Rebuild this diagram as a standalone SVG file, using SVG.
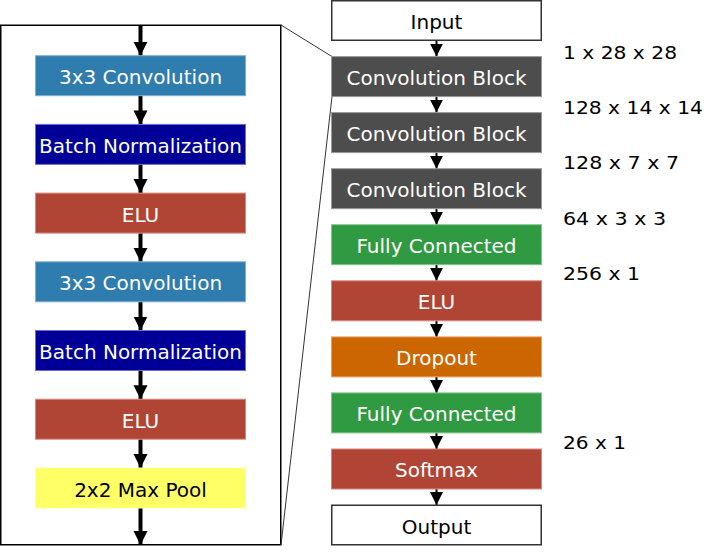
<svg xmlns="http://www.w3.org/2000/svg" width="718" height="555" viewBox="0 0 718 555">
<style>
text{font-family:"DejaVu Sans",Verdana,sans-serif;font-size:20px;text-anchor:middle;fill:#fff}
.dark{fill:#000}
.lbl{font-size:18px;text-anchor:start;fill:#000}
.conv{fill:#2f7cae;stroke:#7fb0d4;stroke-width:1}
.bn{fill:#000099;stroke:#6e6ecc;stroke-width:1}
.elu{fill:#b04535;stroke:#d88a80;stroke-width:1}
.pool{fill:#ffff66;stroke:#ffff99;stroke-width:1}
.cb{fill:#4d4d4d;stroke:#9a9a9a;stroke-width:1}
.fc{fill:#309a43;stroke:#85c590;stroke-width:1}
.drop{fill:#cc6600;stroke:#e6a266;stroke-width:1}
.io{fill:#fff;stroke:#333;stroke-width:1.5}
.sh{stroke:#000;stroke-width:4}
.shr{stroke:#000;stroke-width:2}
</style>
<defs>
<marker id="ahL" viewBox="0 0 14 15" refX="14" refY="7" markerWidth="14" markerHeight="15" markerUnits="userSpaceOnUse" orient="auto"><path d="M0,0 L14,7 L0,14 z" fill="#000"/></marker>
<marker id="ahR" viewBox="0 0 13 13" refX="13" refY="6.5" markerWidth="13" markerHeight="13" markerUnits="userSpaceOnUse" orient="auto"><path d="M0,0 L13,6.5 L0,13 z" fill="#000"/></marker>
</defs>
<rect id="panel" x="0.75" y="25.25" width="280" height="519.5" fill="#fff" stroke="#000" stroke-width="1.5"/>
<g id="connectors" fill="none">
<line x1="281" y1="25" x2="332" y2="56.6" stroke="#333" stroke-width="1"/>
<line x1="332" y1="96.6" x2="281" y2="545" stroke="#333" stroke-width="1"/>
<line class="sh" x1="140.5" y1="25" x2="140.5" y2="55.7" marker-end="url(#ahL)"/>
<line class="sh" x1="140.5" y1="95.7" x2="140.5" y2="124.4" marker-end="url(#ahL)"/>
<line class="sh" x1="140.5" y1="164.4" x2="140.5" y2="193.1" marker-end="url(#ahL)"/>
<line class="sh" x1="140.5" y1="233.1" x2="140.5" y2="261.8" marker-end="url(#ahL)"/>
<line class="sh" x1="140.5" y1="301.8" x2="140.5" y2="330.5" marker-end="url(#ahL)"/>
<line class="sh" x1="140.5" y1="370.5" x2="140.5" y2="399.2" marker-end="url(#ahL)"/>
<line class="sh" x1="140.5" y1="439.2" x2="140.5" y2="468" marker-end="url(#ahL)"/>
<line class="sh" x1="140.5" y1="508" x2="140.5" y2="545" marker-end="url(#ahL)"/>
<line class="shr" x1="436.5" y1="40.5" x2="436.5" y2="56.6" marker-end="url(#ahR)"/>
<line class="shr" x1="436.5" y1="96.6" x2="436.5" y2="112.6" marker-end="url(#ahR)"/>
<line class="shr" x1="436.5" y1="152.6" x2="436.5" y2="168.7" marker-end="url(#ahR)"/>
<line class="shr" x1="436.5" y1="208.7" x2="436.5" y2="224.7" marker-end="url(#ahR)"/>
<line class="shr" x1="436.5" y1="264.7" x2="436.5" y2="280.8" marker-end="url(#ahR)"/>
<line class="shr" x1="436.5" y1="320.8" x2="436.5" y2="336.9" marker-end="url(#ahR)"/>
<line class="shr" x1="436.5" y1="376.9" x2="436.5" y2="392.9" marker-end="url(#ahR)"/>
<line class="shr" x1="436.5" y1="432.9" x2="436.5" y2="449" marker-end="url(#ahR)"/>
<line class="shr" x1="436.5" y1="489" x2="436.5" y2="505" marker-end="url(#ahR)"/>
</g>
<g id="l-conv1"><rect class="conv" x="35.5" y="55.7" width="210" height="40"/><text x="140.5" y="83.5">3x3 Convolution</text></g>
<g id="l-bn1"><rect class="bn" x="35.5" y="124.4" width="210" height="40"/><text x="140.5" y="153">Batch Normalization</text></g>
<g id="l-elu1"><rect class="elu" x="35.5" y="193.1" width="210" height="40"/><text x="140.5" y="221.5">ELU</text></g>
<g id="l-conv2"><rect class="conv" x="35.5" y="261.8" width="210" height="40"/><text x="140.5" y="290">3x3 Convolution</text></g>
<g id="l-bn2"><rect class="bn" x="35.5" y="330.5" width="210" height="40"/><text x="140.5" y="359">Batch Normalization</text></g>
<g id="l-elu2"><rect class="elu" x="35.5" y="399.2" width="210" height="40"/><text x="140.5" y="427.5">ELU</text></g>
<g id="l-pool"><rect class="pool" x="35.5" y="468" width="210" height="40"/><text class="dark" x="140.5" y="496.5">2x2 Max Pool</text></g>
<g id="input"><rect class="io" x="331.75" y="0.75" width="209.5" height="39.5"/><text class="dark" x="436.5" y="28.5">Input</text></g>
<g id="cb1"><rect class="cb" x="331.5" y="56.6" width="210" height="40"/><text x="436.5" y="85">Convolution Block</text></g>
<g id="cb2"><rect class="cb" x="331.5" y="112.6" width="210" height="40"/><text x="436.5" y="141">Convolution Block</text></g>
<g id="cb3"><rect class="cb" x="331.5" y="168.7" width="210" height="40"/><text x="436.5" y="197">Convolution Block</text></g>
<g id="fc1"><rect class="fc" x="331.5" y="224.7" width="210" height="40"/><text x="436.5" y="253">Fully Connected</text></g>
<g id="elu"><rect class="elu" x="331.5" y="280.8" width="210" height="40"/><text x="436.5" y="309">ELU</text></g>
<g id="dropout"><rect class="drop" x="331.5" y="336.9" width="210" height="40"/><text x="436.5" y="365">Dropout</text></g>
<g id="fc2"><rect class="fc" x="331.5" y="392.9" width="210" height="40"/><text x="436.5" y="421">Fully Connected</text></g>
<g id="softmax"><rect class="elu" x="331.5" y="449" width="210" height="40"/><text x="436.5" y="477">Softmax</text></g>
<g id="output"><rect class="io" x="331.75" y="505.25" width="209.5" height="39.5"/><text class="dark" x="436.5" y="533.5">Output</text></g>
<g id="labels">
<text class="lbl" x="563" y="58.5" textLength="114" lengthAdjust="spacingAndGlyphs">1 x 28 x 28</text>
<text class="lbl" x="563" y="113.5" textLength="140" lengthAdjust="spacingAndGlyphs">128 x 14 x 14</text>
<text class="lbl" x="563" y="169" textLength="116" lengthAdjust="spacingAndGlyphs">128 x 7 x 7</text>
<text class="lbl" x="563" y="225" textLength="103" lengthAdjust="spacingAndGlyphs">64 x 3 x 3</text>
<text class="lbl" x="563" y="280" textLength="77" lengthAdjust="spacingAndGlyphs">256 x 1</text>
<text class="lbl" x="563" y="449" textLength="63" lengthAdjust="spacingAndGlyphs">26 x 1</text>
</g>
</svg>
